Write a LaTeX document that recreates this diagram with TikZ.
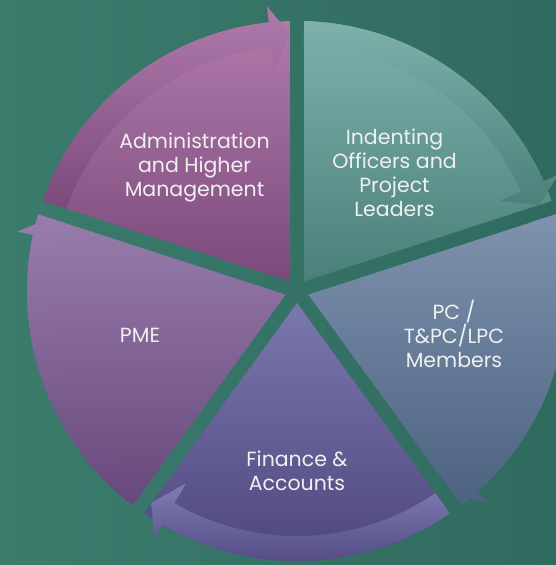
\documentclass[tikz,border=0pt]{standalone}
\usepackage{fontspec}
\setmainfont{Poppins}
\usepackage{xcolor}
\usetikzlibrary{positioning,calc}

\definecolor{bgleft}{RGB}{59,124,109}
\definecolor{bgright}{RGB}{47,106,94}
\definecolor{adminTop}{RGB}{176,123,171}
\definecolor{adminBot}{RGB}{124,73,124}
\definecolor{indentTop}{RGB}{126,177,172}
\definecolor{indentBot}{RGB}{74,128,122}
\definecolor{pcTop}{RGB}{126,146,174}
\definecolor{pcBot}{RGB}{76,98,126}
\definecolor{financeTop}{RGB}{122,120,174}
\definecolor{financeBot}{RGB}{76,68,124}
\definecolor{financeBand}{RGB}{128,124,180}
\definecolor{pmeTop}{RGB}{152,125,172}
\definecolor{pmeBot}{RGB}{104,72,124}

% one segment of the cycle: #1 start angle, #2 end angle (clockwise),
% #3/#4 wedge colours, #5/#6 arrow band colours
\newcommand{\cyclepart}[6]{%
  \pgfmathsetmacro{\amid}{(#1+#2)/2}
  \path[top color=#3, bottom color=#4]
    (\amid:11.9) -- ({#1-1.5}:270)
    arc[start angle={#1-1.5}, end angle={#2+1.5}, radius=270] -- cycle;
  \path[top color=#5, bottom color=#6]
    ({#1-1.5}:270) arc[start angle={#1-1.5}, end angle={#2+6}, radius=270]
    -- ({#2+6}:286) -- ({#2+1.5}:257) -- ({#2+6}:222) -- ({#2+6}:245)
    arc[start angle={#2+6}, end angle={#1-1.6}, radius=245] -- cycle;
}

\begin{document}
\begin{tikzpicture}[
    x=1pt, y=1pt,
    label/.style={text=white!94!black, align=center, font=\fontsize{20.5}{24}\selectfont, inner sep=0pt}
]
\useasboundingbox (0,0) rectangle (556,565);
\shade[left color=bgleft, right color=bgright] (0,0) rectangle (556,565);

\coordinate (c) at (297,274);

\begin{scope}[shift={(c)}]
\cyclepart{90}{18}{indentTop}{indentBot}{indentTop}{indentBot}
\cyclepart{18}{-54}{pcTop}{pcBot}{pcTop}{pcBot}
\cyclepart{-54}{-126}{financeTop}{financeBot}{financeBand}{financeBot}
\cyclepart{-126}{-198}{pmeTop}{pmeBot}{pmeTop}{pmeBot}
\cyclepart{162}{90}{adminTop}{adminBot}{adminTop}{adminBot}
\end{scope}

\node[label] (admin) at (194.5,398) {Administration\\and Higher\\Management};
\node[label] (indenting) at (394.5,392) {Indenting\\Officers and\\Project\\Leaders};
\node[label] (pc) at (454,231) {PC /\\T\&PC/LPC\\Members};
\node[label] (pme) at (140,230) {PME};
\node[label] (finance) at (297,94) {Finance \&\\Accounts};
\end{tikzpicture}
\end{document}
